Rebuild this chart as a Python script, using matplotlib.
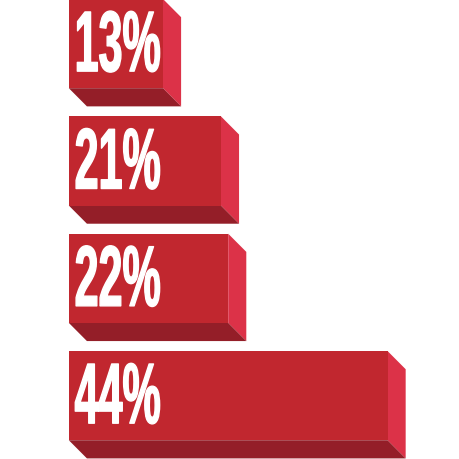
import matplotlib
matplotlib.use("Agg")
import matplotlib.pyplot as plt
from matplotlib.patches import Polygon, Rectangle
from matplotlib import patheffects
from matplotlib.transforms import Affine2D

labels = ["13%", "21%", "22%", "44%"]
values = [13, 21, 22, 44]

front_col = "#c1272f"
side_col = "#dc3248"
bottom_col = "#941e28"


class Squeeze(patheffects.AbstractPathEffect):
    # squash the glyphs sideways so they read like a condensed poster face
    def __init__(self, sx, grow=0.0):
        super().__init__()
        self.sx = sx
        self.grow = grow

    def draw_path(self, renderer, gc, tpath, affine, rgbFace=None):
        gc0 = renderer.new_gc()
        gc0.copy_properties(gc)
        gc0.set_linewidth(self.grow)
        gc0.set_foreground(rgbFace)
        renderer.draw_path(gc0, tpath, Affine2D().scale(self.sx, 1) + affine, rgbFace)
        gc0.restore()


fig = plt.figure(figsize=(4.6, 4.6), dpi=100)
ax = fig.add_axes([0, 0, 1, 1])
ax.set_xlim(-9.5, 54)
ax.set_ylim(3.92, 0)
ax.axis("off")

h = 0.76     # front face height (row units)
dx = 2.5     # depth along x (value units)
dy = 0.155   # depth along y (row units)

for i, (v, lab) in enumerate(zip(values, labels)):
    ax.add_patch(Polygon([(v, i), (v + dx, i + dy), (v + dx, i + h + dy), (v, i + h)],
                         closed=True, facecolor=side_col, edgecolor="none"))
    ax.add_patch(Polygon([(0, i + h), (v, i + h), (v + dx, i + h + dy), (dx, i + h + dy)],
                         closed=True, facecolor=bottom_col, edgecolor="none"))
    ax.add_patch(Rectangle((0, i), v, h, facecolor=front_col, edgecolor="none"))
    ax.text(0.8, i + 0.615, lab, color="white", fontsize=62, fontweight="bold",
            family=["Liberation Sans Narrow", "Liberation Sans", "DejaVu Sans"],
            ha="left", va="baseline",
            path_effects=[Squeeze(0.5, 1.0)])

fig.savefig("out.png", dpi=100)
